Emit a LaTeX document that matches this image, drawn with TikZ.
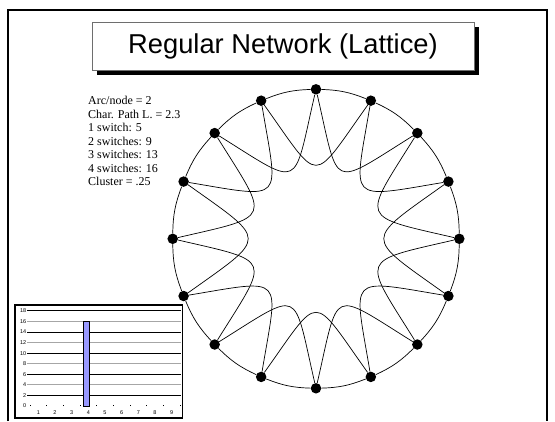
\documentclass[tikz,border=0pt]{standalone}
\usepackage{fontspec}
\setmainfont{Liberation Serif}
\setsansfont{Liberation Sans}
\usepackage{xcolor}
\definecolor{barblue}{RGB}{153,153,255}
\definecolor{titleedge}{RGB}{110,110,110}
\usepackage{tikz}
\usetikzlibrary{shadows}

\begin{document}
\begin{tikzpicture}[x=1pt, y=1pt,
    dot/.style={circle, fill=black, inner sep=0pt, minimum size=10.5pt},
    link/.style={line width=0.7pt},
    titlebox/.style={rectangle, draw=titleedge, line width=0.9pt, fill=white,
                     minimum width=382pt, minimum height=48pt,
                     font=\sffamily\fontsize{27.3}{30}\selectfont,
                     drop shadow={shadow xshift=5pt, shadow yshift=-5pt,
                                  fill=black, opacity=1}},
    stats/.style={inner sep=0pt, anchor=base west, font=\fontsize{12}{13}\selectfont},
    axlabel/.style={font=\sffamily\fontsize{5.5}{6}\selectfont, inner sep=0pt},
  ]
  \useasboundingbox (0,0) rectangle (555,421);

  % slide frame and title
  \draw[line width=1.5pt] (8,0) -- (8,411) -- (547,411) -- (547,0);
  \node[titlebox] (title) at (283,375) {Regular Network (Lattice)};

  \foreach \txt [count=\r] in {Arc/node = 2, Char. Path L. = 2.3, 1 switch: 5,
      2 switches: 9, 3 switches: 13, 4 switches: 16, Cluster = .25}
    \node[stats] (stat\r) at (88,{316-(\r-1)*13.5}) {\txt};

  % lattice: 16 nodes, each linked to its 2 neighbours on each side
  \foreach \i in {0,...,15}{
    \pgfmathsetmacro\ang{90+22.5*\i}
    \node[dot] (n\i) at ({316+143.3*cos(\ang)},{182.2+149.5*sin(\ang)}) {};
  }
  \foreach \i [evaluate=\i as \j using {int(mod(\i+1,16))}] in {0,...,15}
    \draw[link] (n\i) to[bend right=10] (n\j);
  \foreach \i [evaluate=\i as \k using {int(mod(\i+2,16))},
               evaluate=\i as \ang using {90+22.5*\i}] in {0,...,15}
    \draw[link] (n\i) .. controls +({\ang+167}:104) and +({\ang+238}:104) .. (n\k);

  % histogram of path lengths
  \draw[line width=1.1pt, fill=white] (15,3) rectangle (182.5,116);
  \foreach \v in {2,4,...,18}{
    \pgfmathparse{mod(\v,4)==0 ? "gray!70" : "black"}
    \edef\gridcol{\pgfmathresult}
    \draw[\gridcol, line width=1pt] (27,{15+\v*5.28}) -- (180.7,{15+\v*5.28});
  }
  \foreach \v in {0,2,...,18}
    \node[axlabel, anchor=east] (yl\v) at (26.5,{15+\v*5.28}) {\v};
  \foreach \j in {0,...,9}
    \draw[line width=0.6pt] ({30+\j*16.67},15) -- ++(0,1.5);
  \foreach \k in {1,...,9}
    \node[axlabel] (xl\k) at ({38.3+(\k-1)*16.67},8.3) {\k};
  \draw[fill=barblue, line width=0.8pt] (83.7,15) rectangle (89.7,{15+16*5.28});
\end{tikzpicture}
\end{document}
